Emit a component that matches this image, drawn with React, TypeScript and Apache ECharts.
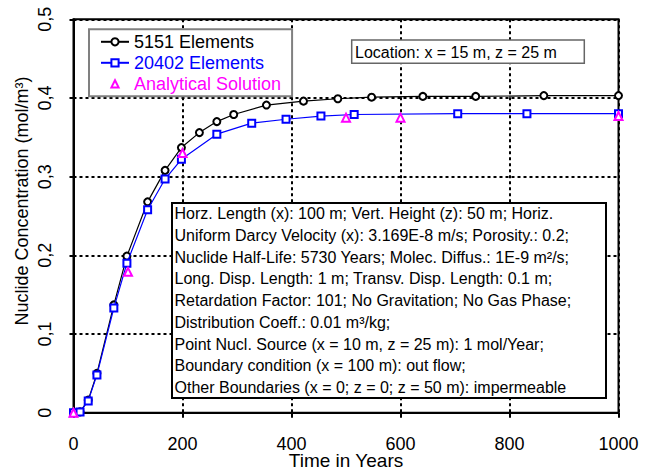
import React, { useEffect, useRef } from "react";
import * as echarts from "echarts";

const FONT = "Liberation Sans, Arial, sans-serif";

// 5151 Elements
const t5151 = [0, 12, 27, 43, 74, 98, 136, 168, 198, 231, 263, 294, 354, 422, 485, 547, 641, 738, 863, 1000];
const c5151 = [0, 0.001, 0.016, 0.05, 0.137, 0.199, 0.268, 0.308, 0.337, 0.356, 0.37, 0.379, 0.391, 0.396, 0.399, 0.401, 0.402, 0.402, 0.403, 0.403];

// 20402 Elements
const t20402 = [0, 12, 27, 43, 74, 98, 136, 168, 198, 263, 327, 390, 454, 515, 705, 832, 1000];
const c20402 = [0, 0.001, 0.015, 0.048, 0.133, 0.19, 0.258, 0.297, 0.322, 0.354, 0.368, 0.373, 0.377, 0.379, 0.38, 0.38, 0.38];

// Analytical Solution
const tAna = [0, 100, 200, 500, 600, 1000];
const cAna = [0, 0.179, 0.33, 0.375, 0.375, 0.377];

const seriesNames = ["5151 Elements", "20402 Elements", "Analytical Solution"];
const seriesColors = ["#000000", "#0000ff", "#ff00ff"];

const xAxisName = "Time in Years";
const yAxisName = "Nuclide Concentration (mol/m³)";
const locationText = "Location: x = 15 m, z = 25 m";
const infoLines = [
  "Horz. Length (x): 100 m; Vert. Height (z): 50 m; Horiz.",
  "Uniform Darcy Velocity (x): 3.169E-8 m/s; Porosity.: 0.2;",
  "Nuclide Half-Life: 5730 Years; Molec. Diffus.: 1E-9 m²/s;",
  "Long. Disp. Length: 1 m; Transv. Disp. Length: 0.1 m;",
  "Retardation Factor: 101; No Gravitation; No Gas Phase;",
  "Distribution Coeff.: 0.01 m³/kg;",
  "Point Nucl. Source (x = 10 m, z = 25 m): 1 mol/Year;",
  "Boundary condition (x = 100 m): out flow;",
  "Other Boundaries (x = 0; z = 0; z = 50 m): impermeable",
];

const zip = (a: number[], b: number[]) => a.map((v, i) => [v, b[i]]);

export default function App() {
  const ref = useRef<HTMLDivElement>(null);
  useEffect(() => {
    if (!ref.current) return;
    const chart = echarts.init(ref.current, null, { renderer: "svg" });
    const gridLine = { show: true, lineStyle: { color: "#000", width: 2, type: [3, 3] } };
    chart.setOption({
      animation: false,
      backgroundColor: "#fff",
      textStyle: { fontFamily: FONT },
      grid: {
        left: 73.5,
        right: 37.5,
        top: 19.3,
        bottom: 57.3,
        show: true,
        borderColor: "#000",
        borderWidth: 2,
        containLabel: false,
        outerBoundsMode: "none",
      },
      legend: {
        orient: "vertical",
        left: 89,
        top: 29.3,
        padding: [2, 11, 2, 11],
        backgroundColor: "#fff",
        borderColor: "#808080",
        borderWidth: 2,
        borderRadius: 0,
        itemWidth: 28,
        itemHeight: 9,
        itemGap: 0,
        textStyle: { fontSize: 18, fontFamily: FONT, lineHeight: 21 },
        data: seriesNames.map((n, i) => ({ name: n, textStyle: { color: seriesColors[i] } })),
        z: 20,
      },
      xAxis: {
        type: "value",
        min: 0,
        max: 1000,
        interval: 200,
        name: xAxisName,
        nameLocation: "middle",
        nameGap: 38,
        nameMoveOverlap: false,
        nameTextStyle: { color: "#000", fontSize: 19, fontFamily: FONT },
        axisLine: { show: true, lineStyle: { color: "#000", width: 2 } },
        axisTick: { show: true, length: 5, lineStyle: { color: "#000", width: 2 } },
        axisLabel: {
          color: "#000",
          fontSize: 18,
          fontFamily: FONT,
          margin: 22,
          formatter: (v: number) => String(v),
        },
        splitLine: gridLine,
      },
      yAxis: {
        type: "value",
        min: 0,
        max: 0.5,
        interval: 0.1,
        axisLine: { show: true, lineStyle: { color: "#000", width: 2 } },
        axisTick: { show: true, length: 4, lineStyle: { color: "#000", width: 2 } },
        axisLabel: {
          color: "#000",
          fontSize: 18,
          fontFamily: FONT,
          rotate: 90,
          margin: 20,
          formatter: (v: number) => (v === 0 ? "0" : String(Math.round(v * 10) / 10).replace(".", ",")),
        },
        splitLine: gridLine,
      },
      graphic: [
        {
          type: "text",
          x: 22,
          y: 201,
          rotation: Math.PI / 2,
          style: {
            text: yAxisName,
            font: `18px ${FONT}`,
            fill: "#000",
            align: "center",
            verticalAlign: "middle",
          },
        },
        {
          type: "rect",
          shape: { x: 351.7, y: 40, width: 232.6, height: 23.3 },
          style: { fill: "#fff", stroke: "#666", lineWidth: 1.5 },
          z: 100,
        },
        {
          type: "text",
          x: 355,
          y: 52,
          style: { text: locationText, font: `16px ${FONT}`, fill: "#000", verticalAlign: "middle" },
          z: 101,
        },
        {
          type: "rect",
          shape: { x: 172, y: 203, width: 434, height: 195 },
          style: { fill: "#fff", stroke: "#000", lineWidth: 2 },
          z: 100,
        },
        {
          type: "text",
          x: 174.5,
          y: 203,
          style: {
            text: infoLines.join("\n"),
            font: `16px ${FONT}`,
            lineHeight: 21.7,
            fill: "#000",
            verticalAlign: "top",
          },
          z: 101,
        },
      ],
      series: [
        {
          type: "line",
          name: seriesNames[0],
          data: zip(t5151, c5151),
          symbol: "emptyCircle",
          symbolSize: 7,
          color: seriesColors[0],
          itemStyle: { color: seriesColors[0], borderColor: seriesColors[0], borderWidth: 1.2 },
          lineStyle: { color: seriesColors[0], width: 1.2 },
          z: 3,
        },
        {
          type: "line",
          name: seriesNames[1],
          data: zip(t20402, c20402),
          symbol: "emptyRect",
          symbolSize: 7,
          color: seriesColors[1],
          itemStyle: { color: seriesColors[1], borderColor: seriesColors[1], borderWidth: 1.2 },
          lineStyle: { color: seriesColors[1], width: 1.2 },
          z: 4,
        },
        {
          type: "line",
          name: seriesNames[2],
          data: zip(tAna, cAna),
          symbol: "emptyTriangle",
          symbolSize: 8,
          color: seriesColors[2],
          itemStyle: { color: seriesColors[2], borderColor: seriesColors[2], borderWidth: 1.2 },
          lineStyle: { color: seriesColors[2], width: 0, opacity: 0 },
          z: 5,
        },
      ],
    });
    return () => chart.dispose();
  }, []);
  return (
    <div
      ref={ref}
      style={{ position: "fixed", left: 0, top: 0, width: 656, height: 470, background: "#fff" }}
    />
  );
}
